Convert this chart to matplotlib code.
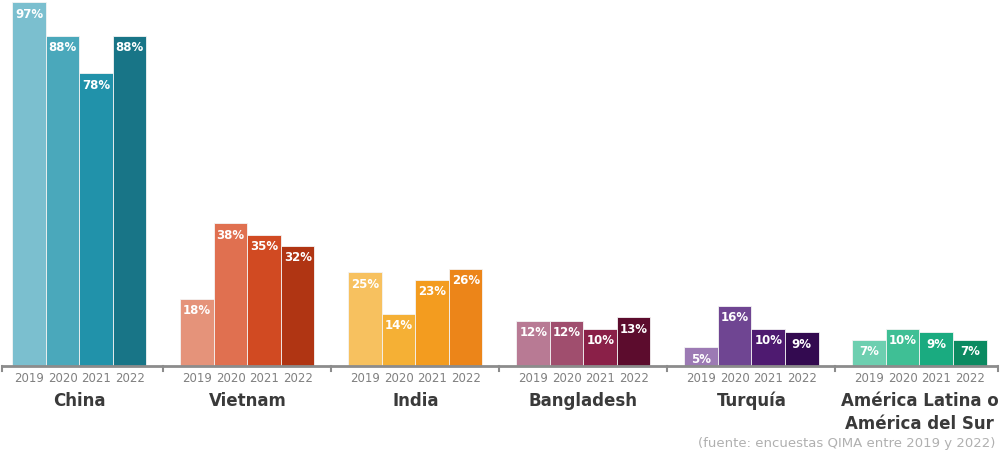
import matplotlib.pyplot as plt
from matplotlib.transforms import blended_transform_factory

categories = ['China', 'Vietnam', 'India', 'Bangladesh', 'Turquía', 'América Latina o\nAmérica del Sur']
years = ['2019', '2020', '2021', '2022']
values = [
    [97, 88, 78, 88],
    [18, 38, 35, 32],
    [25, 14, 23, 26],
    [12, 12, 10, 13],
    [5, 16, 10, 9],
    [7, 10, 9, 7],
]
colors = [
    ['#7bbfcf', '#4aa8bb', '#2192aa', '#187587'],
    ['#e5937a', '#e07050', '#d14a22', '#b03513'],
    ['#f7c15f', '#f5b035', '#f39c1f', '#ec8519'],
    ['#b87a94', '#a04e6e', '#8a2048', '#5c0c2d'],
    ['#9c7ab4', '#6f4592', '#4e1a70', '#330a50'],
    ['#6dcfb0', '#3fbf95', '#1aab80', '#0b8a61'],
]
source = '(fuente: encuestas QIMA entre 2019 y 2022)'

fig = plt.figure(figsize=(10, 4.54), dpi=100)
ax = fig.add_axes([0, (454 - 366) / 454, 1, 366 / 454])
ax.set_xlim(-79.5 / 168, (1000 - 79.5) / 168)
ax.set_ylim(0, 366 / 3.75)
ax.axis('off')

w = 33.5 / 168
trans = blended_transform_factory(ax.transData, fig.transFigure)
for i, (vals, cols) in enumerate(zip(values, colors)):
    for j, v in enumerate(vals):
        x = i + (j - 1.5) * w
        ax.bar(x, v, width=w, color=cols[j], edgecolor='#f4f4f4', linewidth=0.6)
        ax.annotate(f'{v}%', (x, v), xytext=(0, -8.5), textcoords='offset points',
                    ha='center', va='center', color='white', fontsize=8.5, fontweight='bold')
        ax.text(x, 1 - 379 / 454, years[j], transform=trans, ha='center', va='center',
                color='#808080', fontsize=8.5)
    ax.text(i, 1 - 392 / 454, categories[i], transform=trans, ha='center', va='top',
            color='#3a3a3a', fontsize=12, fontweight='bold', linespacing=1.35)

# baseline with group ticks
left = -77.5 / 168
right = (998 - 79.5) / 168
ax.plot([left, right], [0, 0], color='#8c8c8c', lw=2, clip_on=False, solid_capstyle='butt')
for t in [left] + [k + 0.5 for k in range(5)] + [right]:
    ax.plot([t, t], [0, -1.4], color='#8c8c8c', lw=1.5, clip_on=False)

fig.text(995 / 1000, 1 - 444 / 454, source, ha='right', va='center', color='#b0b0b0', fontsize=9.5)

plt.savefig('out.png', dpi=100)
